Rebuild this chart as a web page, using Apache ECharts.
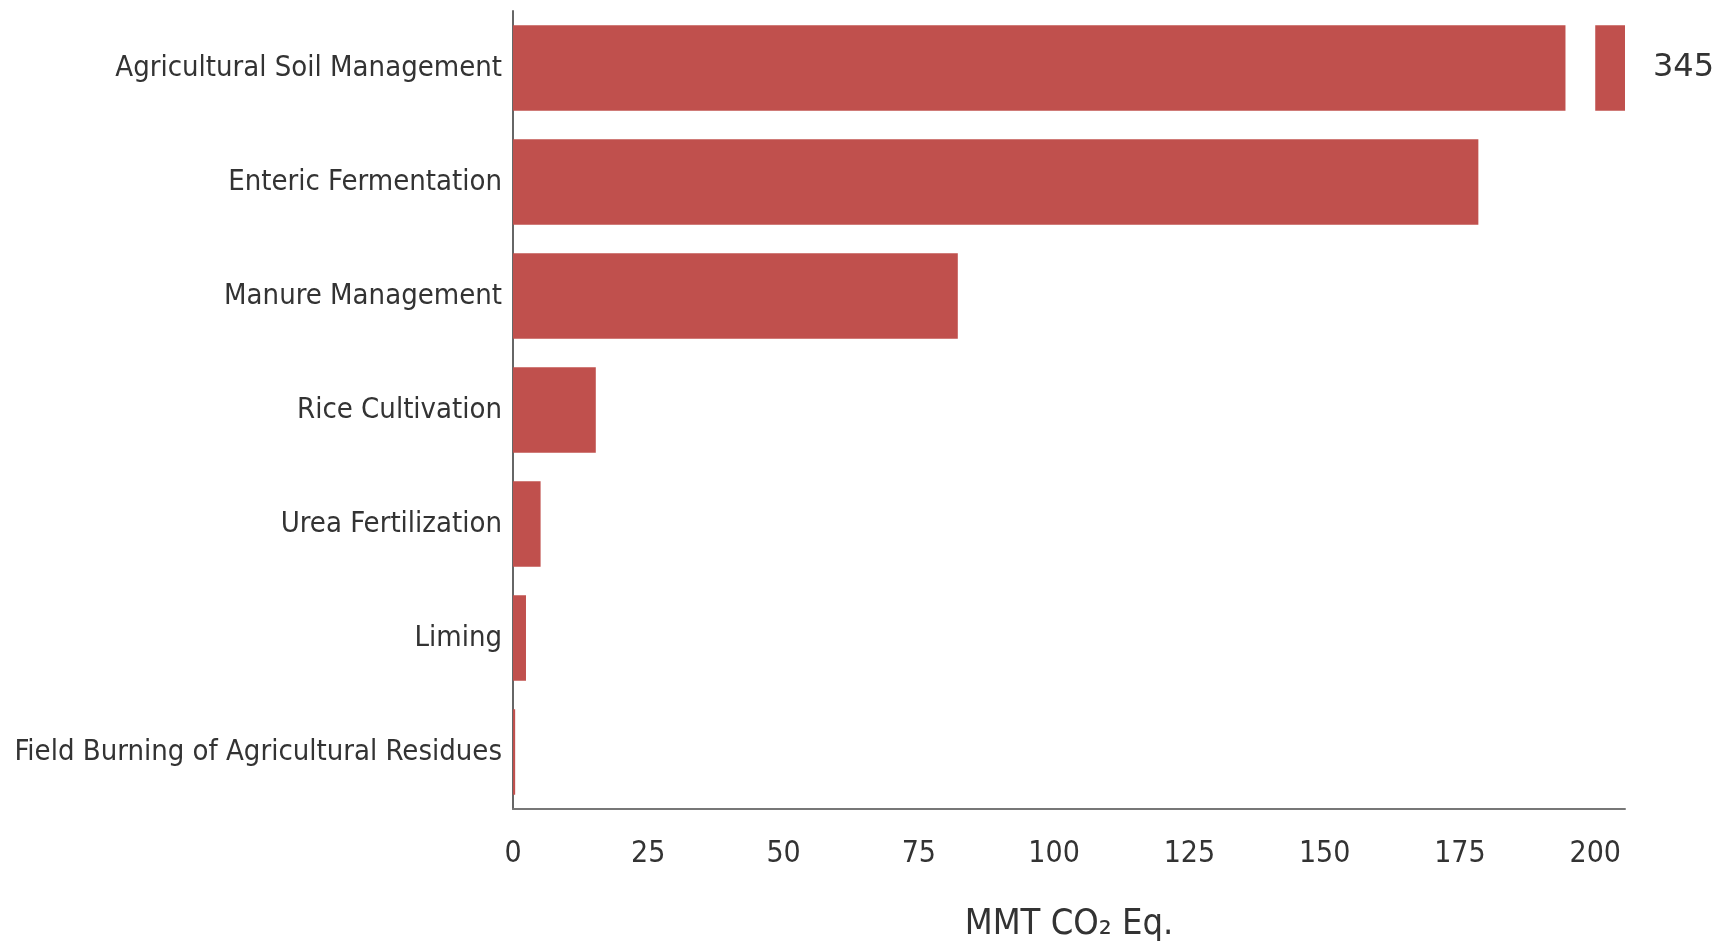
<!DOCTYPE html>
<html>
<head>
<meta charset="utf-8">
<script src="https://cdn.jsdelivr.net/npm/echarts@6/dist/echarts.min.js"></script>
<style>
  html, body { margin: 0; padding: 0; background: #fff; }
  #chart { width: 1725px; height: 949px; }
</style>
</head>
<body>
<div id="chart"></div>
<script>
// categories, top to bottom
const categories = [
  'Agricultural Soil Management',
  'Enteric Fermentation',
  'Manure Management',
  'Rice Cultivation',
  'Urea Fertilization',
  'Liming',
  'Field Burning of Agricultural Residues'
];
// MMT CO2 Eq.
const values = [345, 178.4, 82.2, 15.3, 5.1, 2.4, 0.4];
const xTicks = [0, 25, 50, 75, 100, 125, 150, 175, 200];

// broken bar: main piece stops, gap, then a short stub at the end of the axis
const breakAt = 194.5;
const resumeAt = 200;
const axisEnd = 205.5;

const barColor = '#C0504D';
const labelFont = '"DejaVu Sans Condensed", "DejaVu Sans", sans-serif';

let mainPart = values.map(v => Math.min(v, breakAt));
let gapPart = values.map(v => v > axisEnd ? resumeAt - breakAt : 0);
let stubPart = values.map(v => v > axisEnd ? axisEnd - resumeAt : 0);

let chart = echarts.init(document.getElementById('chart'));
chart.setOption({
  animation: false,
  grid: { left: 513, right: 100, top: 11, bottom: 140, outerBoundsMode: 'none' },
  xAxis: {
    type: 'value',
    min: 0,
    max: axisEnd,
    interval: 25,
    name: 'MMT CO₂ Eq.',
    nameLocation: 'middle',
    nameGap: 98,
    nameTextStyle: { fontFamily: labelFont, fontSize: 36, color: '#333' },
    axisLine: { show: true, lineStyle: { color: '#777', width: 2 } },
    axisTick: { show: false },
    splitLine: { show: false },
    axisLabel: {
      margin: 30,
      fontFamily: labelFont,
      fontSize: 30,
      color: '#333',
      formatter: v => xTicks.indexOf(v) >= 0 ? String(v) : ''
    }
  },
  yAxis: {
    type: 'category',
    inverse: true,
    data: categories,
    axisLine: { show: true, lineStyle: { color: '#666', width: 2 } },
    axisTick: { show: false },
    axisLabel: {
      margin: 11,
      fontFamily: labelFont,
      fontSize: 29,
      color: '#333'
    }
  },
  series: [
    {
      type: 'bar',
      stack: 'total',
      barWidth: '75%',
      data: mainPart,
      itemStyle: { color: barColor }
    },
    {
      type: 'bar',
      stack: 'total',
      data: gapPart,
      silent: true,
      itemStyle: { color: 'rgba(0,0,0,0)' }
    },
    {
      type: 'bar',
      stack: 'total',
      data: stubPart,
      itemStyle: { color: barColor },
      label: {
        show: true,
        position: 'right',
        distance: 28,
        fontFamily: '"DejaVu Sans", sans-serif',
        fontSize: 32,
        color: '#333',
        formatter: p => p.value > 0 ? String(values[p.dataIndex]) : ''
      }
    }
  ]
});
</script>
</body>
</html>
